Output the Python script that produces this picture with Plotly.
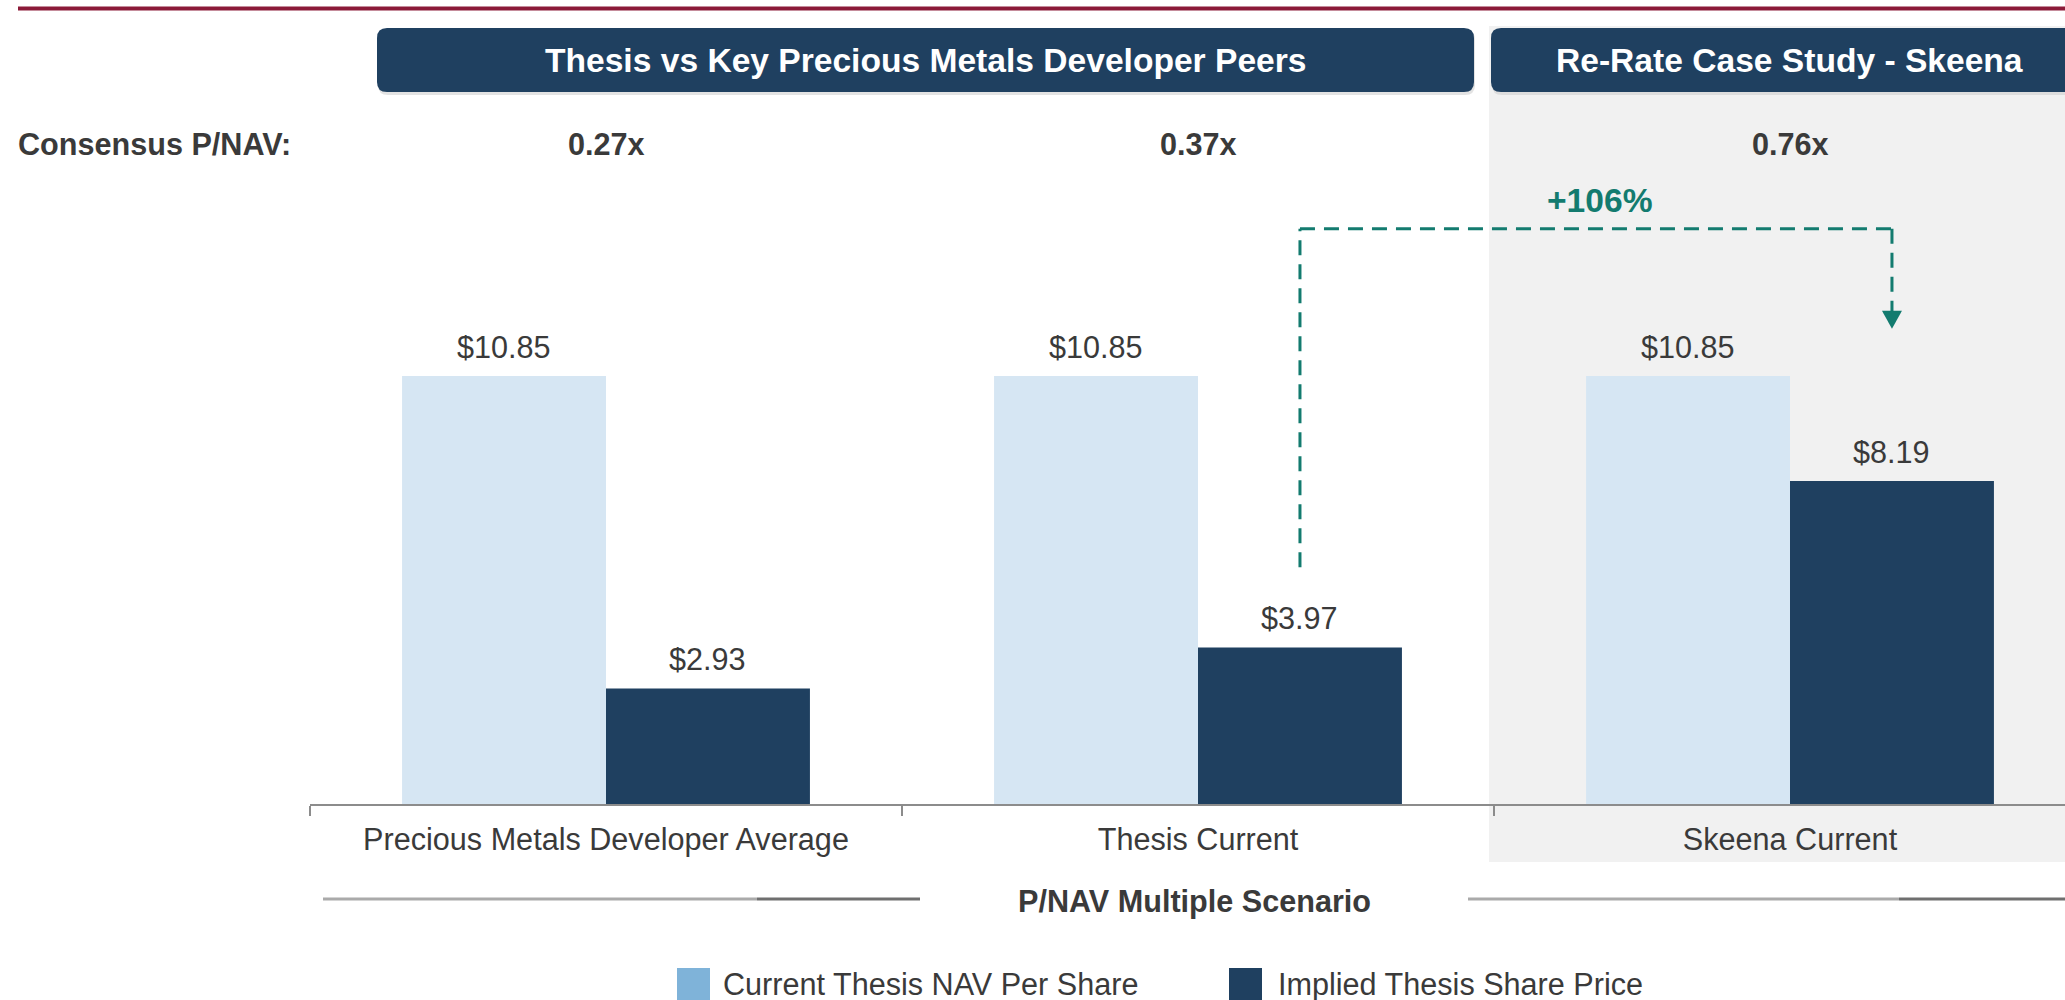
import plotly.graph_objects as go

# ---------------- data ----------------
categories = ["Precious Metals Developer Average", "Thesis Current", "Skeena Current"]
nav_per_share = [10.85, 10.85, 10.85]
implied_price = [2.93, 3.97, 8.19]
consensus_pnav = ["0.27x", "0.37x", "0.76x"]
series_names = ["Current Thesis NAV Per Share", "Implied Thesis Share Price"]
headers = ["Thesis vs Key Precious Metals Developer Peers", "Re-Rate Case Study - Skeena"]
uplift_label = "+106%"
# connector levels (value units)
conn_start, conn_top, conn_end = 6.0, 14.58, 12.05

# ---------------- style ----------------
OFF = 0  # page body margin removed via post_script
SW, SH = 2065, 1000
W, H = SW - OFF, SH - OFF
PLOT_BOTTOM = 804 - OFF
L, R, T, B = 310 - OFF, 0, 100 - OFF, H - PLOT_BOTTOM
PW, PH = W - L - R, H - T - B
FONT = "Liberation Sans, Arial, sans-serif"
FS = 30.6
LIGHT = "#D6E6F3"
LIGHT_LEG = "#7FB3D9"
DARK = "#1F4060"
TEAL = "#137B6F"
TXT = "#3A3A3A"
BARGAP = 0.311
YMAX = PH / 39.45
XR = [-0.5, -0.5 + PW / 592.0]

def px(x):  # screen pixel -> paper
    return (x - OFF - L) / PW

def py(y):
    return (PLOT_BOTTOM - (y - OFF)) / PH

half = (1 - BARGAP) / 4.0  # offset of each bar centre from category centre

fig = go.Figure()
fig.add_trace(go.Bar(x=categories, y=nav_per_share, name=series_names[0],
                     marker=dict(color=LIGHT, line=dict(width=0)), showlegend=False,
                     hoverinfo="skip"))
fig.add_trace(go.Bar(x=categories, y=implied_price, name=series_names[1],
                     marker=dict(color=DARK, line=dict(width=0)), showlegend=False,
                     hoverinfo="skip"))

shapes = []
ann = []

# top red rule
shapes.append(dict(type="line", xref="paper", yref="paper", x0=px(18), x1=px(SW + 20),
                   y0=py(8.5), y1=py(8.5), line=dict(color="#8B1A38", width=4)))
# grey panel
shapes.append(dict(type="rect", xref="paper", yref="paper", layer="below",
                   x0=px(1489), x1=px(SW + 20), y0=py(26), y1=py(862),
                   fillcolor="#F1F1F1", line=dict(width=0)))

def rounded(x0, x1, y0, y1, r=10):
    def P(x, y):
        return f"{px(x)},{py(y)}"
    return (f"M {P(x0 + r, y0)} L {P(x1 - r, y0)} Q {P(x1, y0)} {P(x1, y0 + r)} "
            f"L {P(x1, y1 - r)} Q {P(x1, y1)} {P(x1 - r, y1)} L {P(x0 + r, y1)} "
            f"Q {P(x0, y1)} {P(x0, y1 - r)} L {P(x0, y0 + r)} Q {P(x0, y0)} {P(x0 + r, y0)} Z")

for (x0, x1), text in zip([(377, 1474), (1491, 2087)], headers):
    shapes.append(dict(type="path", xref="paper", yref="paper", layer="above",
                       path=rounded(x0 + 1, x1 + 1, 30, 95), fillcolor="#D0D0D0",
                       line=dict(width=0), opacity=0.6))
    shapes.append(dict(type="path", xref="paper", yref="paper", layer="above",
                       path=rounded(x0, x1, 28, 92), fillcolor=DARK, line=dict(width=0)))
    ann.append(dict(xref="paper", yref="paper", x=px((x0 + x1) / 2), y=py(61),
                    text=f"<b>{text}</b>", showarrow=False,
                    font=dict(family=FONT, size=33.6, color="white"),
                    xanchor="center", yanchor="middle"))

# consensus row
ann.append(dict(xref="paper", yref="paper", x=px(16), y=py(144), text="<b>Consensus P/NAV:</b>",
                showarrow=False, xanchor="left", yanchor="middle",
                font=dict(family=FONT, size=FS, color=TXT)))
for i, v in enumerate(consensus_pnav):
    ann.append(dict(xref="x", yref="paper", x=i, y=py(144), text=f"<b>{v}</b>",
                    showarrow=False, xanchor="center", yanchor="middle",
                    font=dict(family=FONT, size=FS, color=TXT)))

# bar value labels
for i in range(len(categories)):
    for vals, off in ((nav_per_share, -half), (implied_price, half)):
        ann.append(dict(xref="x", yref="y", x=i + off, y=vals[i], text=f"${vals[i]:.2f}",
                        showarrow=False, xanchor="center", yanchor="bottom", yshift=10,
                        font=dict(family=FONT, size=FS, color=TXT)))

# dashed connector
xa, xb = 1 + half, 2 + half
dl = dict(color=TEAL, width=3, dash="15px,9px")
shapes.append(dict(type="line", xref="x", yref="y", x0=xa, x1=xa, y0=conn_start, y1=conn_top, line=dl))
shapes.append(dict(type="line", xref="x", yref="y", x0=xa, x1=xb, y0=conn_top, y1=conn_top, line=dl))
shapes.append(dict(type="line", xref="x", yref="y", x0=xb, x1=xb, y0=conn_top, y1=conn_end + 0.35, line=dl))
hw = 10 / 592.0
shapes.append(dict(type="path", xref="x", yref="y",
                   path=f"M {xb - hw},{conn_end + 0.45} L {xb + hw},{conn_end + 0.45} L {xb},{conn_end} Z",
                   fillcolor=TEAL, line=dict(width=0)))
ann.append(dict(xref="paper", yref="paper", x=px(1600), y=py(200), text=f"<b>{uplift_label}</b>",
                showarrow=False, xanchor="center", yanchor="middle",
                font=dict(family=FONT, size=33.6, color=TEAL)))

# axis title with flanking rules
ann.append(dict(xref="paper", yref="paper", x=px(1194), y=py(901), text="<b>P/NAV Multiple Scenario</b>",
                showarrow=False, xanchor="center", yanchor="middle",
                font=dict(family=FONT, size=FS, color=TXT)))
for (a, b), col in [((323, 757), "#AAAAAA"), ((757, 920), "#6F6F6F"),
                    ((1468, 1899), "#AAAAAA"), ((1899, SW + 20), "#6F6F6F")]:
    shapes.append(dict(type="line", xref="paper", yref="paper", x0=px(a), x1=px(b),
                       y0=py(899), y1=py(899), line=dict(color=col, width=3)))

# custom legend
for (x0, tx), col, name in zip([(677, 721), (1229, 1276)], [LIGHT_LEG, DARK], series_names):
    shapes.append(dict(type="rect", xref="paper", yref="paper", x0=px(x0), x1=px(x0 + 33),
                       y0=py(968), y1=py(1010), fillcolor=col, line=dict(width=0)))
    ann.append(dict(xref="paper", yref="paper", x=px(tx), y=py(984), text=name,
                    showarrow=False, xanchor="left", yanchor="middle",
                    font=dict(family=FONT, size=FS, color=TXT)))

fig.update_layout(
    width=W, height=H,
    margin=dict(l=L, r=R, t=T, b=B, pad=0),
    paper_bgcolor="white", plot_bgcolor="rgba(0,0,0,0)",
    barmode="group", bargap=BARGAP, bargroupgap=0,
    showlegend=False,
    shapes=shapes, annotations=ann,
    font=dict(family=FONT, size=FS, color=TXT),
    xaxis=dict(type="category", range=XR, showgrid=False, zeroline=False,
               showline=True, linecolor="#8C8C8C", linewidth=2,
               ticks="outside", tickson="boundaries", ticklen=10, tickwidth=1.5,
               tickcolor="#8C8C8C", tickfont=dict(family=FONT, size=FS, color=TXT),
               ticklabelstandoff=7, fixedrange=True),
    yaxis=dict(range=[0, YMAX], visible=False, fixedrange=True),
)

fig.write_html("out.html",
               config={"displayModeBar": False, "staticPlot": True},
               post_script="document.body.style.margin='0';"
                           "document.documentElement.style.overflow='hidden';"
                           "document.body.style.overflow='hidden';")
